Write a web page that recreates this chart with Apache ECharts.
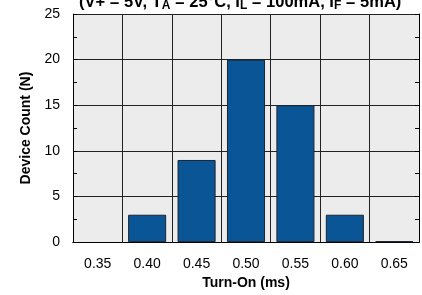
<!DOCTYPE html>
<html>
<head>
<meta charset="UTF-8">
<script src="https://cdn.jsdelivr.net/npm/echarts@6/dist/echarts.min.js"></script>
<style>
  body { margin: 0; background: #fff; }
  #main { width: 422px; height: 295px; }
</style>
</head>
<body>
<div id="main"></div>
<script>
// histogram bins (ms) and device counts
var bins = ['0.35', '0.40', '0.45', '0.50', '0.55', '0.60', '0.65'];
var counts = [0, 3, 9, 20, 15, 3, 0.1];
var yTicks = [0, 5, 10, 15, 20, 25];

var font = 'Liberation Sans, Arial, sans-serif';
var chart = echarts.init(document.getElementById('main'));

var option = {
  animation: false,
  title: {
    text: '{b|(V+ = 5V, T}{s|A}{b| = 25°C, I}{s|L}{b| = 100mA, I}{s|F}{b| = 5mA)}',
    left: 74,
    top: -13,
    textStyle: {
      rich: {
        b: { fontFamily: font, fontWeight: 'bold', fontSize: 16.5, color: '#000' },
        s: { fontFamily: font, fontWeight: 'bold', fontSize: 12, color: '#000', padding: [8, 0, 0, 0] }
      }
    }
  },
  grid: { left: 73, right: 3, top: 14, bottom: 51, backgroundColor: '#ececec', show: true, borderWidth: 0 },
  xAxis: [{
    type: 'category',
    data: bins,
    boundaryGap: true,
    name: 'Turn-On (ms)',
    nameLocation: 'middle',
    nameGap: 33,
    nameTextStyle: { fontFamily: font, fontWeight: 'bold', fontSize: 14, color: '#000' },
    axisLine: { lineStyle: { color: '#000', width: 1 } },
    axisTick: { inside: true, alignWithLabel: true, length: 4, lineStyle: { color: '#000' } },
    axisLabel: { fontFamily: font, fontSize: 14, color: '#000', margin: 15 },
    splitLine: { show: true, lineStyle: { color: '#222', width: 1 } }
  }, {
    type: 'category',
    data: bins,
    position: 'top',
    axisLine: { lineStyle: { color: '#000', width: 1 } },
    axisTick: { inside: true, alignWithLabel: true, length: 4, lineStyle: { color: '#000' } },
    axisLabel: { show: false },
    splitLine: { show: false }
  }],
  yAxis: [{
    type: 'value',
    min: 0,
    max: 25,
    interval: 5,
    name: 'Device Count (N)',
    nameLocation: 'middle',
    nameGap: 38,
    nameTextStyle: { fontFamily: font, fontWeight: 'bold', fontSize: 14, color: '#000' },
    axisLine: { show: true, lineStyle: { color: '#000', width: 1 } },
    axisTick: { show: true, inside: true, length: 4, lineStyle: { color: '#000' } },
    minorTick: { show: true, splitNumber: 2, length: 4, lineStyle: { color: '#000' } },
    axisLabel: { fontFamily: font, fontSize: 14, color: '#000', margin: 13 },
    splitLine: { show: true, lineStyle: { color: '#222', width: 1 } }
  }, {
    type: 'value',
    min: 0,
    max: 25,
    interval: 5,
    position: 'right',
    axisLine: { show: true, lineStyle: { color: '#000', width: 1 } },
    axisTick: { show: true, inside: true, length: 4, lineStyle: { color: '#000' } },
    minorTick: { show: true, splitNumber: 2, length: 4, lineStyle: { color: '#000' } },
    axisLabel: { show: false },
    splitLine: { show: false }
  }],
  series: [{
    type: 'bar',
    // empty bins draw no bar at all
    data: counts.map(function (v) { return v === 0 ? '-' : v; }),
    barWidth: '77%',
    itemStyle: { color: '#0a5596', borderColor: '#1c2430', borderWidth: 1 }
  }]
};

chart.setOption(option);
</script>
</body>
</html>
